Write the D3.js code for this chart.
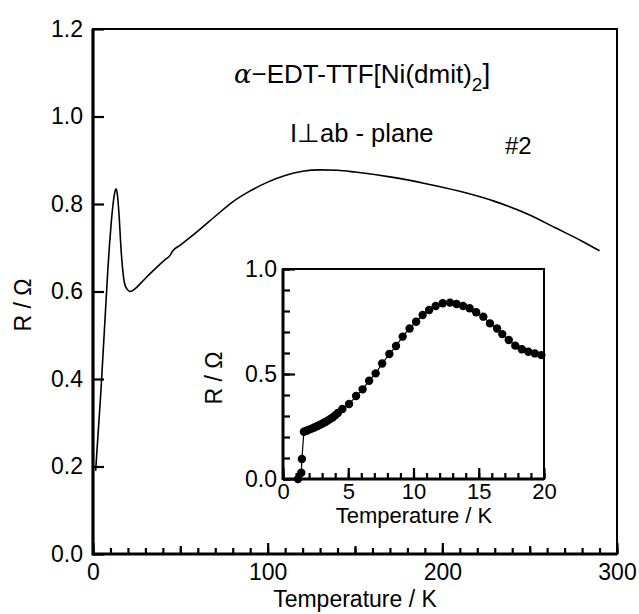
<!DOCTYPE html>
<html lang="en">
<head>
<meta charset="UTF-8">
<title>R vs T</title>
<script src="https://cdn.jsdelivr.net/npm/d3@7"></script>
<style>
    * { margin: 0; padding: 0; }
    body { background: #fff; }
    text { font-family: "Liberation Sans", Arial, Helvetica, sans-serif; fill: #000; }
    .domain { display: none; }
</style>
</head>
<body>
<script>
    const width = 639
    const height = 614

    // main curve: temperature (K) and resistance (ohm)
    const mainT = [1.5, 2.5, 3.5, 4.5, 5.5, 6.5, 7.5, 8.5, 9.5, 10.5, 11.5, 12.5, 13.2, 14, 15, 16, 17, 18, 19.5, 21.5, 24, 28, 33, 38, 42, 44, 45.5, 50, 60, 70, 80, 90, 100, 110, 120, 130, 140, 150, 170, 190, 210, 230, 250, 265, 280, 290]
    const mainR = [0.19, 0.25, 0.31, 0.37, 0.44, 0.51, 0.58, 0.65, 0.71, 0.76, 0.80, 0.827, 0.835, 0.82, 0.77, 0.70, 0.65, 0.62, 0.605, 0.60, 0.606, 0.622, 0.642, 0.661, 0.675, 0.682, 0.692, 0.706, 0.738, 0.772, 0.805, 0.83, 0.85, 0.865, 0.875, 0.878, 0.877, 0.873, 0.862, 0.847, 0.829, 0.806, 0.775, 0.745, 0.715, 0.693]

    // inset: low temperature points
    const insetT = [1.15, 1.4, 1.45, 1.6, 1.8, 2.0, 2.2, 2.4, 2.6, 2.8, 3.0, 3.2, 3.4, 3.6, 3.8, 4.0, 4.2, 4.55, 5.06, 5.6, 6.1, 6.6, 7.1, 7.6, 8.15, 8.66, 9.17, 9.7, 10.2, 10.7, 11.2, 11.7, 12.24, 12.8, 13.3, 13.8, 14.3, 14.8, 15.35, 15.86, 16.4, 16.8, 17.3, 17.8, 18.3, 18.8, 19.3, 19.8]
    const insetR = [0.0, 0.03, 0.095, 0.225, 0.23, 0.235, 0.24, 0.245, 0.251, 0.257, 0.263, 0.27, 0.277, 0.285, 0.293, 0.303, 0.314, 0.333, 0.357, 0.395, 0.427, 0.468, 0.503, 0.55, 0.595, 0.633, 0.678, 0.717, 0.749, 0.781, 0.805, 0.824, 0.837, 0.84, 0.833, 0.824, 0.813, 0.794, 0.773, 0.741, 0.717, 0.69, 0.662, 0.635, 0.618, 0.606, 0.598, 0.59]

    const mainXTicks = [0, 100, 200, 300]
    const mainYTicks = [0, 0.2, 0.4, 0.6, 0.8, 1.0, 1.2]
    const insetXTicks = [0, 5, 10, 15, 20]
    const insetYTicks = [0, 0.5, 1.0]

    const svg = d3.select('body')
        .append('svg')
        .attr('width', width)
        .attr('height', height)

    // ---------- main plot ----------
    const x = d3.scaleLinear().domain([0, 300]).range([93, 617])
    const y = d3.scaleLinear().domain([0, 1.2]).range([554, 29])

    // minor ticks every 10 K, medium at 50, major at 100
    svg.append('g')
        .attr('transform', 'translate(0,554)')
        .call(d3.axisBottom(x).tickValues(d3.range(0, 301, 10)).tickSize(-6).tickFormat(''))
    svg.append('g')
        .attr('transform', 'translate(0,554)')
        .call(d3.axisBottom(x).tickValues([50, 150, 250]).tickSize(-8).tickFormat(''))
    svg.append('g')
        .attr('transform', 'translate(0,554)')
        .call(d3.axisBottom(x).tickValues(mainXTicks).tickSize(-11).tickPadding(10).tickFormat(d3.format('d')))
        .selectAll('text').attr('font-size', 23)

    svg.append('g')
        .attr('transform', 'translate(93,0)')
        .call(d3.axisLeft(y).tickValues(mainYTicks).tickSize(-11).tickPadding(10).tickFormat(d3.format('.1f')))
        .selectAll('text').attr('font-size', 23)

    svg.selectAll('.tick line').attr('stroke', '#000').attr('stroke-width', 2.2)

    // frame
    svg.append('rect')
        .attr('x', x(0)).attr('y', y(1.2))
        .attr('width', x(300) - x(0)).attr('height', y(0) - y(1.2))
        .attr('fill', 'none').attr('stroke', '#000').attr('stroke-width', 2)
    svg.append('line').attr('x1', x(0)).attr('x2', x(0)).attr('y1', y(1.2)).attr('y2', y(0) + 1.5)
        .attr('stroke', '#000').attr('stroke-width', 3.2)
    svg.append('line').attr('x1', x(0)).attr('x2', x(300)).attr('y1', y(0)).attr('y2', y(0))
        .attr('stroke', '#000').attr('stroke-width', 3)

    const mainLine = d3.line()
        .x((d, i) => x(mainT[i]))
        .y((d, i) => y(mainR[i]))
        .curve(d3.curveMonotoneX)

    svg.append('path')
        .datum(mainT)
        .attr('d', mainLine)
        .attr('fill', 'none')
        .attr('stroke', '#000')
        .attr('stroke-width', 1.6)

    // axis titles
    svg.append('text')
        .attr('x', 355).attr('y', 607)
        .attr('text-anchor', 'middle')
        .attr('font-size', 23)
        .text('Temperature / K')
    svg.append('text')
        .attr('transform', 'translate(31,305) rotate(-90)')
        .attr('text-anchor', 'middle')
        .attr('font-size', 23)
        .text('R / Ω')

    // annotations
    const title = svg.append('text')
        .attr('x', 234).attr('y', 83)
        .attr('font-size', 26)
    title.append('tspan').attr('font-family', 'DejaVu Serif').attr('font-style', 'italic').text('α')
    title.append('tspan').text('−EDT-TTF[Ni(dmit)')
    title.append('tspan').attr('font-size', 19).attr('dy', 8).text('2')
    title.append('tspan').attr('dy', -8).attr('font-size', 28).text(']')

    svg.append('text')
        .attr('x', 290).attr('y', 142)
        .attr('font-size', 25.5)
        .text('I⊥ab - plane')

    svg.append('text')
        .attr('x', 505).attr('y', 154)
        .attr('font-size', 24)
        .text('#2')

    // ---------- inset ----------
    const ix = d3.scaleLinear().domain([0, 20]).range([283, 544])
    const iy = d3.scaleLinear().domain([0, 1]).range([479, 269])

    const inset = svg.append('g')

    inset.append('rect')
        .attr('x', ix(0)).attr('y', iy(1))
        .attr('width', ix(20) - ix(0)).attr('height', iy(0) - iy(1))
        .attr('fill', '#fff').attr('stroke', '#000').attr('stroke-width', 2)

    inset.append('g')
        .attr('transform', 'translate(0,479)')
        .call(d3.axisBottom(ix).tickValues(d3.range(0, 21, 1)).tickSize(-6).tickFormat(''))
    inset.append('g')
        .attr('transform', 'translate(0,479)')
        .call(d3.axisBottom(ix).tickValues(insetXTicks).tickSize(-11).tickPadding(4).tickFormat(d3.format('d')))
        .selectAll('text').attr('font-size', 22)

    inset.append('g')
        .attr('transform', 'translate(283,0)')
        .call(d3.axisLeft(iy).tickValues(d3.range(0, 1.01, 0.1)).tickSize(-7).tickFormat(''))
    inset.append('g')
        .attr('transform', 'translate(283,0)')
        .call(d3.axisLeft(iy).tickValues(insetYTicks).tickSize(-12).tickPadding(6).tickFormat(d3.format('.1f')))
        .selectAll('text').attr('font-size', 23)

    inset.selectAll('.tick line').attr('stroke', '#000').attr('stroke-width', 2.2)

    inset.append('line').attr('x1', ix(0)).attr('x2', ix(0)).attr('y1', iy(1)).attr('y2', iy(0) + 1)
        .attr('stroke', '#000').attr('stroke-width', 3)
    inset.append('line').attr('x1', ix(0)).attr('x2', ix(20)).attr('y1', iy(0)).attr('y2', iy(0))
        .attr('stroke', '#000').attr('stroke-width', 3)

    const insetLine = d3.line()
        .x((d, i) => ix(insetT[i]))
        .y((d, i) => iy(insetR[i]))

    inset.append('path')
        .datum(insetT)
        .attr('d', insetLine)
        .attr('fill', 'none')
        .attr('stroke', '#000')
        .attr('stroke-width', 1.2)

    inset.selectAll('.dot')
        .data(insetT)
        .enter()
        .append('circle')
        .attr('class', 'dot')
        .attr('cx', (d, i) => ix(insetT[i]))
        .attr('cy', (d, i) => iy(insetR[i]))
        .attr('r', 4.2)
        .attr('fill', '#000')

    inset.append('text')
        .attr('x', 414).attr('y', 523)
        .attr('text-anchor', 'middle')
        .attr('font-size', 22)
        .text('Temperature / K')
    inset.append('text')
        .attr('transform', 'translate(222,378) rotate(-90)')
        .attr('text-anchor', 'middle')
        .attr('font-size', 23)
        .text('R / Ω')
</script>
</body>
</html>
